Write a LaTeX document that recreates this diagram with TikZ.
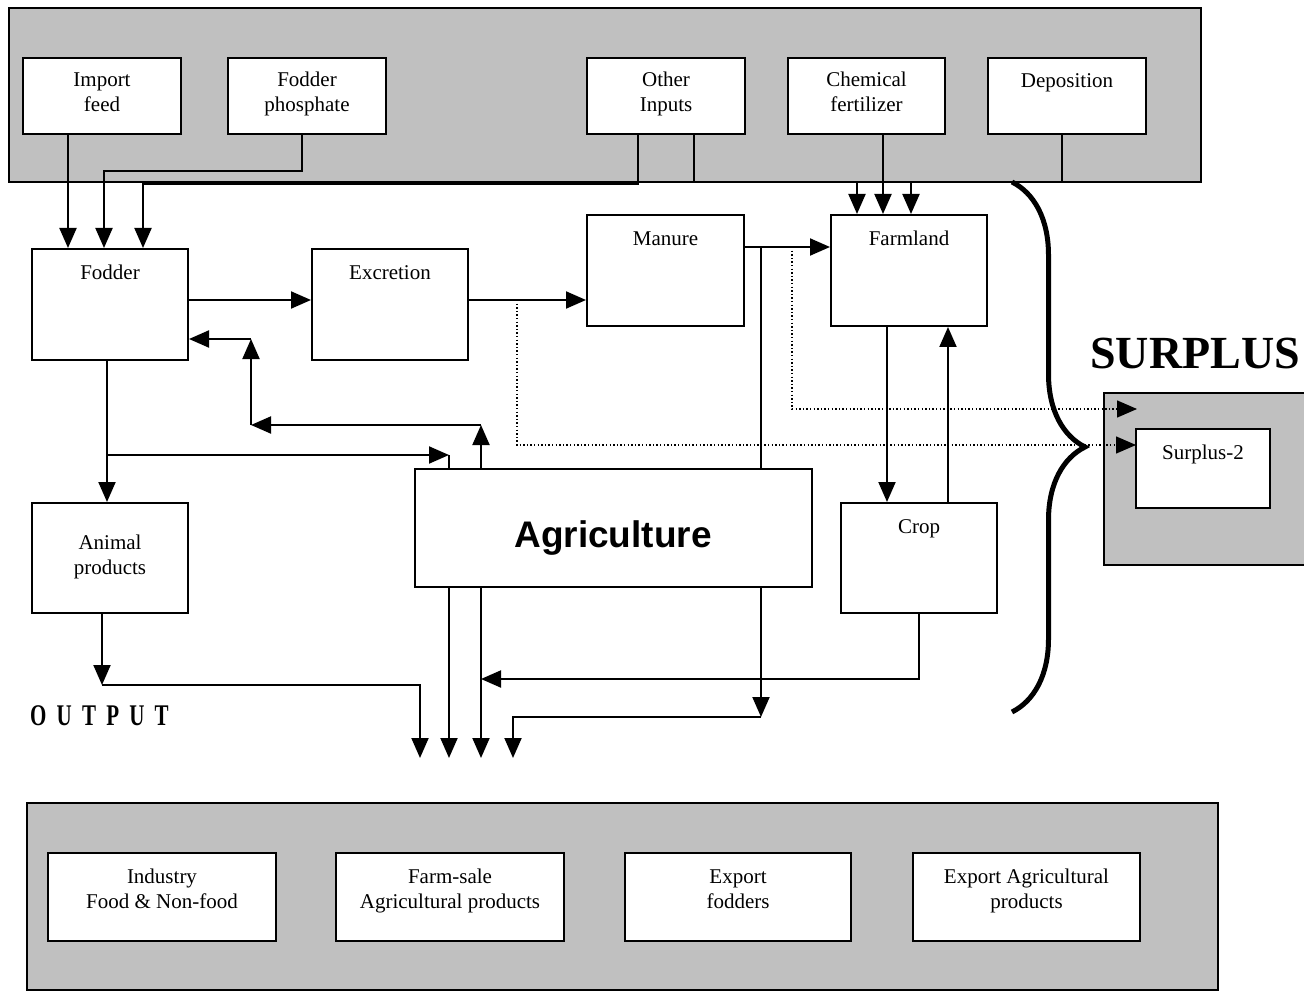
\documentclass[tikz,border=0pt]{standalone}
\usepackage{fontspec}
\setmainfont{Liberation Serif}
\newfontfamily\agrifont{Liberation Sans}
\newfontfamily\outfont[FakeStretch=0.7,LetterSpace=34]{Liberation Serif}
\usetikzlibrary{arrows.meta,decorations.pathreplacing}
\definecolor{panelgrey}{RGB}{192,192,192}

\begin{document}
\begin{tikzpicture}[x=1pt,y=-1pt,
  panel/.style={draw=black, line width=2pt, fill=panelgrey, inner sep=0pt, rectangle},
  box/.style={draw=black, line width=2pt, fill=white, inner sep=0pt, rectangle},
  txt/.style={font=\fontsize{21}{25}\selectfont, align=center, anchor=base, inner sep=0pt},
  link/.style={line width=2pt},
  arr/.style={link, -{Triangle[length=20pt,width=17pt]}},
  dots/.style={line width=1.4pt, dash pattern=on 1.4pt off 2.2pt, -{Triangle[length=20pt,width=17pt]}}
]
\clip (0,0) rectangle (1304,992);

% ---------- grey panels ----------
\node[panel, minimum width=1192pt, minimum height=174pt] (inputs) at (605,95) {};
\node[panel, minimum width=1191pt, minimum height=187pt] (outputs) at (622.5,896.5) {};
\node[panel, minimum width=240pt, minimum height=172pt] (surplus) at (1224,479) {};

% ---------- input boxes (two-line labels sit on their last baseline) ----------
\node[box, minimum width=158pt, minimum height=76pt] (imp)  at (102,96) {};
\node[box, minimum width=158pt, minimum height=76pt] (fph)  at (307,96) {};
\node[box, minimum width=158pt, minimum height=76pt] (oth)  at (666,96) {};
\node[box, minimum width=157pt, minimum height=76pt] (chem) at (866.5,96) {};
\node[box, minimum width=158pt, minimum height=76pt] (dep)  at (1067,96) {};
\node[txt] (impT)  at (102,112)   {Import\\feed};
\node[txt] (fphT)  at (307,112)   {Fodder\\phosphate};
\node[txt] (othT)  at (666,112)   {Other\\Inputs};
\node[txt] (chemT) at (866.5,112) {Chemical\\fertilizer};
\node[txt] (depT)  at (1067,88)   {Deposition};

% ---------- process boxes ----------
\node[box, minimum width=156pt, minimum height=111pt] (fod)  at (110,304.5) {};
\node[box, minimum width=156pt, minimum height=111pt] (exc)  at (390,304.5) {};
\node[box, minimum width=157pt, minimum height=111pt] (man)  at (665.5,270.5) {};
\node[box, minimum width=156pt, minimum height=111pt] (farm) at (909,270.5) {};
\node[box, minimum width=156pt, minimum height=110pt] (crop) at (919,558) {};
\node[box, minimum width=156pt, minimum height=110pt] (anim) at (110,558) {};
\node[box, minimum width=397pt, minimum height=118pt] (agri) at (613.5,528) {};
\node[box, minimum width=134pt, minimum height=79pt]  (sur2) at (1203,468.5) {};
\node[txt] (fodT)  at (110,280)   {Fodder};
\node[txt] (excT)  at (390,280)   {Excretion};
\node[txt] (manT)  at (665.5,246) {Manure};
\node[txt] (farmT) at (909,246)   {Farmland};
\node[txt] (cropT) at (919,533)   {Crop};
\node[txt] (animT) at (110,574)   {Animal\\products};
\node[txt] (sur2T) at (1203,459)  {Surplus-2};
\node[anchor=base, inner sep=0pt, font=\agrifont\bfseries\fontsize{37}{40}\selectfont] (agriT) at (613,547) {Agriculture};

% ---------- output boxes ----------
\node[box, minimum width=228pt, minimum height=88pt] (ind) at (162,897) {};
\node[box, minimum width=228pt, minimum height=88pt] (fs)  at (450,897) {};
\node[box, minimum width=226pt, minimum height=88pt] (exf) at (738,897) {};
\node[box, minimum width=227pt, minimum height=88pt] (exa) at (1026.5,897) {};
\node[txt] (indT) at (162,908)    {Industry\\Food \& Non-food};
\node[txt] (fsT)  at (450,908)    {Farm-sale\\Agricultural products};
\node[txt] (exfT) at (738,908)    {Export\\fodders};
\node[txt] (exaT) at (1026.5,908) {Export Agricultural\\products};

% ---------- headings ----------
\node[anchor=base west, inner sep=0pt, font=\bfseries\fontsize{46}{50}\selectfont] (surT) at (1090,368) {SURPLUS};
\node[anchor=base west, inner sep=0pt, font=\outfont\bfseries\fontsize{30}{32}\selectfont] (outT) at (30,725) {OUTPUT};

% ---------- inputs to fodder ----------
\draw[arr] ([xshift=-34pt]imp.south) -- ([xshift=-34pt]imp.south |- fod.north);
\draw[arr] ([xshift=-5pt]fph.south) -- ++(0,36) -| ([xshift=-6pt]fod.north);
\draw[arr] ([xshift=-28pt]oth.south) -- ++(0,49) -| ([xshift=33pt]fod.north);

% ---------- inputs to farmland ----------
\draw[arr] ([xshift=28pt]oth.south) -- ++(0,47) -| ([xshift=-52pt]farm.north);
\draw[arr] ([xshift=16.5pt]chem.south) -- ([xshift=16.5pt]chem.south |- farm.north);
\draw[arr] ([xshift=-5pt]dep.south) -- ++(0,47) -| ([xshift=2pt]farm.north);

% ---------- main chain ----------
\coordinate (fo) at ([yshift=4.5pt]fod.east);
\draw[arr] (fo) -- (fo -| exc.west);
\coordinate (exo) at ([yshift=4.5pt]exc.east);
\draw[arr] (exo) -- (exo -| man.west);
\coordinate (mo) at ([yshift=23.5pt]man.east);
\draw[arr] (mo) -- (mo -| farm.west);
\coordinate (mj) at (761,247);
\draw[link] (mj) -- (mj |- agri.north);

% ---------- losses to surplus ----------
\coordinate (d1) at (517,300);
\coordinate (s2) at (1136,445);
\draw[dots] (d1) |- (s2);
\coordinate (d2) at (792,247);
\coordinate (s1) at (1137,409);
\draw[dots] (d2) |- (s1);

% ---------- farmland / crop loop ----------
\draw[arr] ([xshift=-22pt]farm.south) -- ([xshift=-22pt]farm.south |- crop.north);
\draw[arr] ([xshift=29pt]crop.north) -- ([xshift=29pt]crop.north |- farm.south);

% ---------- fodder to animals and agriculture ----------
\draw[arr] ([xshift=-3pt]fod.south) -- ([xshift=-3pt]fod.south |- anim.north);
\coordinate (fj) at (107,455);
\coordinate (ac1) at (449,455);
\draw[arr] (fj) -- (ac1);
\draw[link] (ac1) -- (ac1 |- agri.north);

% ---------- agriculture back to fodder ----------
\coordinate (ac2) at (481,425);
\coordinate (bk) at (251,425);
\coordinate (bk2) at (251,339);
\draw[arr] (ac2 |- agri.north) -- (ac2);
\draw[arr] (ac2) -- (bk);
\draw[arr] (bk) -- (bk2);
\draw[arr] (bk2) -- (bk2 -| fod.east);

% ---------- flows to output ----------
\coordinate (ao) at (102,685);
\coordinate (o1) at (420,758);
\coordinate (o2) at (449,758);
\coordinate (o3) at (481,758);
\coordinate (o4) at (513,758);
\draw[arr] (ao |- anim.south) -- (ao);
\draw[arr] (ao) -| (o1);
\draw[arr] (o2 |- agri.south) -- (o2);
\draw[arr] (o3 |- agri.south) -- (o3);
\coordinate (cj) at (481,679);
\draw[arr] (crop.south) -- (crop.south |- cj) -- (cj);
\coordinate (aj) at (761,717);
\draw[arr] (aj |- agri.south) -- (aj);
\draw[arr] (aj) -| (o4);

% ---------- surplus brace ----------
\coordinate (brT) at (1012,182);
\coordinate (brB) at (1012,712);
\draw[line width=5pt, decorate, decoration={brace, amplitude=73pt}] (brT) -- (brB);
\end{tikzpicture}
\end{document}
